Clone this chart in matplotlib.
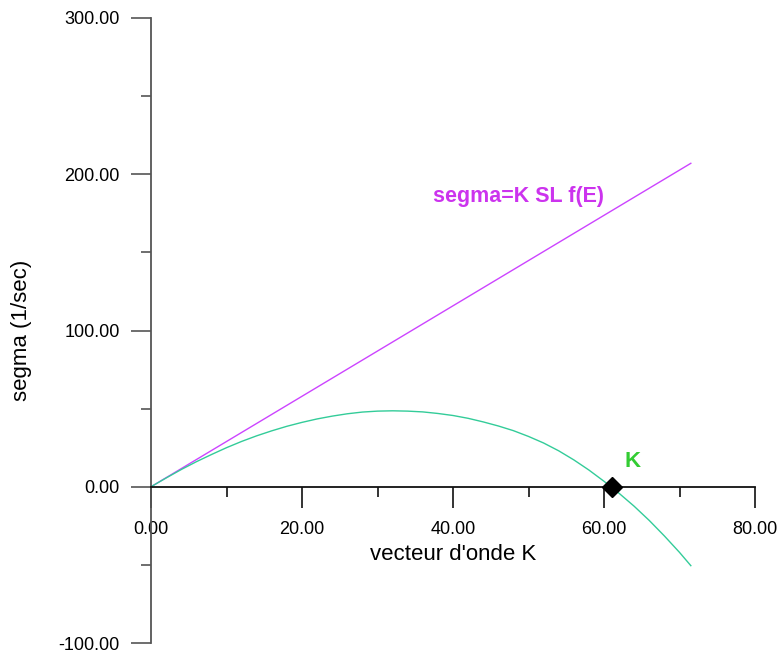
import matplotlib
matplotlib.use("Agg")
import matplotlib.pyplot as plt
from matplotlib.ticker import MultipleLocator, FormatStrFormatter

plt.rcParams['font.family'] = ['Liberation Sans', 'DejaVu Sans']

# Data
line_k = [0.0, 71.5]
line_sigma = [0.0, 207.0]

curve_k = [0, 2, 4, 6, 8, 10, 12, 14, 16, 18, 20, 22, 24, 26, 28, 30, 32, 34, 36,
           38, 40, 42, 44, 46, 48, 50, 52, 54, 56, 58, 60, 62, 64, 66, 68, 70, 71.5]
curve_sigma = [0.0, 5.6, 11.0, 16.0, 20.6, 25.0, 29.0, 32.6, 35.8, 38.7, 41.2,
               43.4, 45.2, 46.7, 47.8, 48.4, 48.6, 48.4, 47.9, 46.9, 45.6, 43.8,
               41.5, 38.9, 35.9, 32.2, 28.0, 23.0, 17.2, 10.7, 3.5, -4.2, -12.5,
               -21.6, -31.5, -42.0, -50.5]

root_k = [61.0]
root_sigma = [0.0]

line_label = "segma=K SL f(E)"
root_label = "K"
x_title = "vecteur d'onde K"
y_title = "segma (1/sec)"

fig = plt.figure(figsize=(7.83, 6.52), dpi=100)
ax = fig.add_axes([151/783, 1 - 643/652, 604/783, 625/652])

ax.plot(line_k, line_sigma, color='#CC44FF', lw=1.0)
ax.plot(curve_k, curve_sigma, color='#33CC99', lw=1.0)
ax.plot(root_k, root_sigma, marker='D', color='black', ms=10.5, ls='none', zorder=5)

ax.text(37.35, 185.6, line_label, color='#CC33EE', fontsize=15.5,
        fontweight='bold', ha='left', va='center')
ax.text(63.8, 16, root_label, color='#33CC33', fontsize=16,
        fontweight='bold', ha='center', va='center')

ax.set_xlim(0, 80)
ax.set_ylim(-100, 300)

for s in ['top', 'right']:
    ax.spines[s].set_visible(False)
ax.spines['left'].set_position(('data', 0))
ax.spines['bottom'].set_position(('data', 0))
ax.spines['left'].set_color('#555555')
ax.spines['left'].set_linewidth(1.3)
ax.spines['bottom'].set_color('#111111')
ax.spines['bottom'].set_linewidth(1.3)

ax.xaxis.set_major_locator(MultipleLocator(20))
ax.xaxis.set_minor_locator(MultipleLocator(10))
ax.yaxis.set_major_locator(MultipleLocator(100))
ax.yaxis.set_minor_locator(MultipleLocator(50))
ax.xaxis.set_major_formatter(FormatStrFormatter('%.2f'))
ax.yaxis.set_major_formatter(FormatStrFormatter('%.2f'))

ax.tick_params(axis='x', which='major', direction='out', length=15, width=1.2,
               color='#111111', pad=10, labelsize=13)
ax.tick_params(axis='x', which='minor', direction='out', length=7.5, width=1.2,
               color='#111111')
ax.tick_params(axis='y', which='major', direction='out', length=14.4, width=1.2,
               color='#555555', pad=8, labelsize=13)
ax.tick_params(axis='y', which='minor', direction='out', length=7.2, width=1.2,
               color='#555555')

ax.set_xlabel(x_title, fontsize=16)
ax.xaxis.label.set_va('center')
ax.xaxis.set_label_coords(0.5, (643 - 555) / 625)
ax.set_ylabel(y_title, fontsize=16)
ax.yaxis.label.set_va('center')
ax.yaxis.set_label_coords((22 - 151) / 604, 0.5)

fig.savefig('out.png', dpi=100)
